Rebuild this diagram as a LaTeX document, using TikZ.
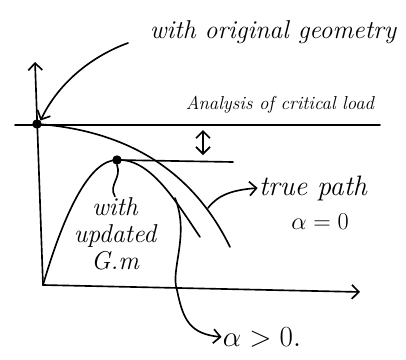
\documentclass[tikz,border=0pt]{standalone}
\usepackage{tikz}
\usetikzlibrary{arrows.meta,positioning}

\begin{document}
\begin{tikzpicture}[
    x=0.03cm, y=-0.03cm,
    hand/.style={line width=1.4pt, line cap=round, line join=round},
    note/.style={font=\fontsize{20}{22}\selectfont\itshape, inner sep=1pt, align=center},
    dot/.style={circle, fill, inner sep=0pt, minimum size=8pt},
    >={Straight Barb[length=6pt, width=12pt]}
  ]
    \useasboundingbox (0,0) rectangle (406,360);
    % axes and the critical load level
    \coordinate (origin) at (43,285);
    \coordinate (ytop) at (35,62);
    \coordinate (xend) at (360,292);
    \coordinate (critL) at (15,125);
    \coordinate (critR) at (380,125);
    \node[dot] (origdot) at (37,124) {};
    \node[dot] (peakdot) at (117,160) {};
    \coordinate (peakR) at (233,162);
    \coordinate (gaptop) at (203,130);
    \coordinate (gapbot) at (203,155);
    \coordinate (geomstart) at (128,43);
    \coordinate (trueon) at (208,208);
    \coordinate (alphaon) at (175,198);
    % labels
    \node[note, font=\fontsize{22}{24}\selectfont\itshape] (geomlabel) at (273,32) {with original geometry};
    \node[note, font=\fontsize{16}{18}\selectfont\itshape] (critlabel) at (280,105) {Analysis of critical load};
    \node[note, font=\fontsize{22}{23}\selectfont\itshape] (gmlabel) at (115,234) {with\\updated\\G.m};
    \node[note, font=\fontsize{24}{26}\selectfont\itshape] (truelabel) at (313,188) {true path};
    \node[note] (truealpha) at (320,222) {$\alpha=0$};
    \node[note, font=\fontsize{26}{28}\selectfont] (alphalabel) at (262,337) {$\alpha>0.$};
    \draw[hand,->] (origin) -- (ytop);
    \draw[hand,->] (origin) -- (xend);
    \draw[hand] (critL) -- (critR);
    \draw[hand] (peakdot.center) -- (peakR);
    \draw[hand,<->] (gaptop) -- (gapbot);
    % paths
    \draw[hand] (origdot.center) .. controls (120,130) and (190,165) .. (230,247);
    \draw[hand] (origin) .. controls (65,210) and (90,160) .. (peakdot.center)
      .. controls (150,158) and (175,200) .. (200,237);
    % pointers
    \draw[hand,->] (geomstart) .. controls (95,55) and (60,80) .. (origdot.north east);
    \draw[hand] (peakdot.south) .. controls (122,178) and (108,185) .. (gmlabel.north);
    \draw[hand,->] (trueon) .. controls (218,195) and (232,190) .. (truelabel.west);
    \draw[hand,->] (alphaon) .. controls (190,235) and (170,270) .. (177,290)
      .. controls (183,320) and (190,334) .. (alphalabel.west);
\end{tikzpicture}
\end{document}
